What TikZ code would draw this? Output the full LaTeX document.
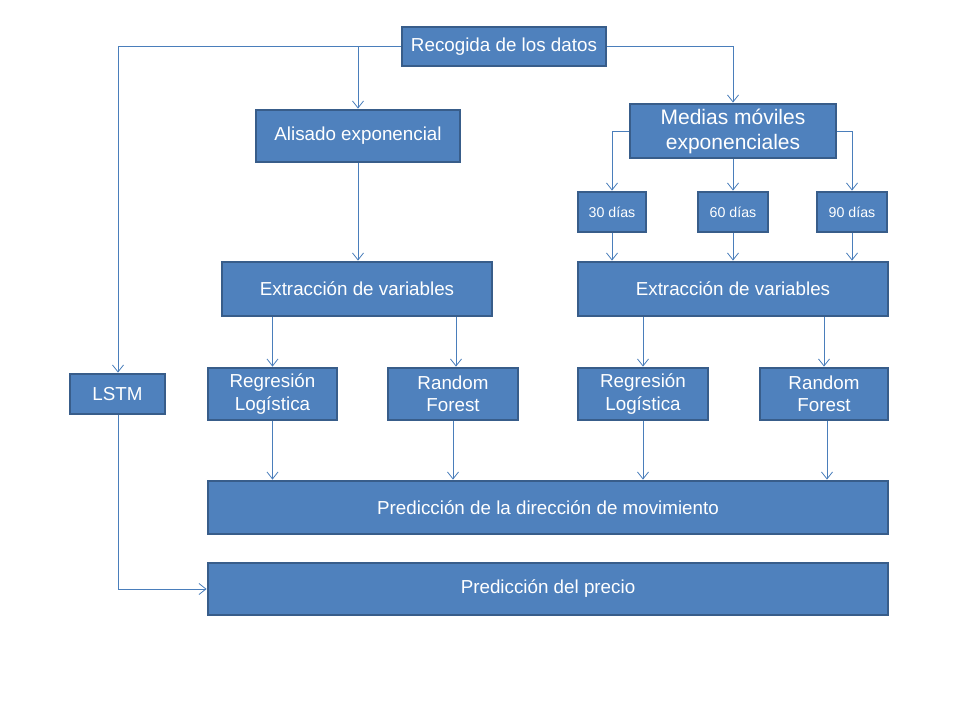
\documentclass[tikz,border=0pt]{standalone}
\usepackage{fontspec}
\setmainfont{Liberation Sans}
\usetikzlibrary{arrows.meta}
\definecolor{boxfill}{HTML}{4F81BD}
\definecolor{boxline}{HTML}{385D8A}
\definecolor{conn}{HTML}{4A7EBB}
\begin{document}
\begin{tikzpicture}[x=1pt,y=-1pt,
  box/.style={draw=boxline,line width=2.8pt,fill=boxfill,text=white,inner sep=0pt,align=center,font=\fontsize{18.8}{22.5}\selectfont},
  smallbox/.style={box,font=\fontsize{14.2}{17}\selectfont},
  conn/.style={draw=conn,line width=0.9pt,-{Straight Barb[length=7pt,width=11pt,line width=0.8pt]}},
  plain/.style={draw=conn,line width=0.9pt}]
\useasboundingbox (0,0) rectangle (960,720);
\node[box,minimum width=204pt,minimum height=39pt] (rec) at (504,46.5) {Recogida de los datos};
\node[box,minimum width=204pt,minimum height=52pt] (ali) at (358,136) {Alisado exponencial};
\node[box,minimum width=206pt,minimum height=54pt,font=\fontsize{21}{25}\selectfont] (med) at (733,131) {Medias móviles\\exponenciales};
\node[smallbox,minimum width=68pt,minimum height=40pt] (d30) at (612,212) {30 días};
\node[smallbox,minimum width=70pt,minimum height=40pt] (d60) at (733,212) {60 días};
\node[smallbox,minimum width=70pt,minimum height=40pt] (d90) at (852,212) {90 días};
\node[box,minimum width=270pt,minimum height=54pt] (exl) at (357,289) {Extracción de variables};
\node[box,minimum width=310pt,minimum height=54pt] (exr) at (733,289) {Extracción de variables};
\node[box,minimum width=95pt,minimum height=40pt] (lstm) at (117.5,394) {LSTM};
\node[box,minimum width=129pt,minimum height=52pt] (rl1) at (272.5,394) {Regresión\\Logística};
\node[box,minimum width=130pt,minimum height=52pt] (rf1) at (453,394) {Random\\Forest};
\node[box,minimum width=130pt,minimum height=52pt] (rl2) at (643,394) {Regresión\\Logística};
\node[box,minimum width=128pt,minimum height=52pt] (rf2) at (824,394) {Random\\Forest};
\node[box,minimum width=680pt,minimum height=53pt] (pdir) at (548,507.5) {Predicción de la dirección de movimiento};
\node[box,minimum width=680pt,minimum height=52pt] (ppre) at (548,589) {Predicción del precio};
% connectors
\coordinate (jl) at (118,46.5);
\draw[conn] (rec.west) -- (jl) -- (lstm.north -| jl);
\draw[conn] (rec.west -| ali.north) -- (ali.north);
\draw[conn] (rec.east) -| (med.north);
\draw[conn] (med.west) -| (d30.north);
\draw[conn] (med.east) -| (d90.north);
\draw[conn] (med.south) -- (d60.north);
\draw[conn] (ali.south) -- (ali.south |- exl.north);
\draw[conn] (d30.south) -- (d30.south |- exr.north);
\draw[conn] (d60.south) -- (d60.south |- exr.north);
\draw[conn] (d90.south) -- (d90.south |- exr.north);
\draw[conn] (exl.south -| rl1.north) -- (rl1.north);
\coordinate (x1) at (456,0);
\draw[conn] (exl.south -| x1) -- (rf1.north -| x1);
\draw[conn] (exr.south -| rl2.north) -- (rl2.north);
\draw[conn] (exr.south -| rf2.north) -- (rf2.north);
\draw[conn] (rl1.south) -- (rl1.south |- pdir.north);
\draw[conn] (rf1.south) -- (rf1.south |- pdir.north);
\draw[conn] (rl2.south) -- (rl2.south |- pdir.north);
\coordinate (x2) at (827,0);
\draw[conn] (rf2.south -| x2) -- (pdir.north -| x2);
\draw[conn] (lstm.south -| jl) |- (ppre.west);
\end{tikzpicture}
\end{document}
